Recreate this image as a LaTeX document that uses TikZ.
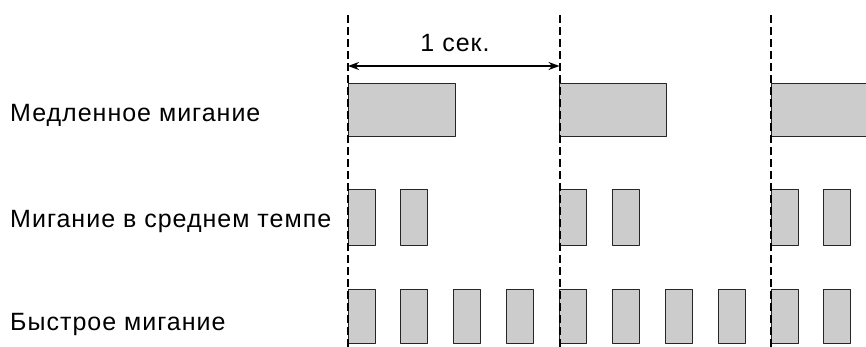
\documentclass[tikz,border=0pt]{standalone}
\usepackage{fontspec}
\setmainfont[LetterSpace=4]{Liberation Sans}
\usetikzlibrary{arrows.meta}
\begin{document}
\begin{tikzpicture}[x=1pt, y=-1pt, font=\fontsize{25}{30}\selectfont, line join=round, >={Stealth[length=11pt,width=8pt]},
	flash/.style={draw=black!85, fill=gray!40, line width=1pt},
	tick/.style={draw=black, line width=2pt, dash pattern=on 8pt off 4pt}]
	\clip (0,0) rectangle (866,347);
	\foreach \k in {0,1,2}{
		\draw[flash] (348+211.5*\k,84) rectangle ++(107,53);
		\foreach \j in {0,1}
			\draw[flash] (348+211.5*\k+52.9*\j,190) rectangle ++(27,55);
		\foreach \j in {0,1,2,3}
			\draw[flash] (348+211.5*\k+52.9*\j,289) rectangle ++(27,54);
		\coordinate (t\k) at (348+211.5*\k,15);
		\coordinate (b\k) at (348+211.5*\k,347);
		\draw[tick] (t\k)--(b\k);
	}
	\coordinate (a0) at (348,66);
	\coordinate (a1) at (559.5,66);
	\draw[<->, line width=1.8pt] (a0)--(a1);
	\node[anchor=base] (sec) at (455,52) {1 сек.};
	\node[anchor=base west, inner sep=0pt] (slow) at (10,122) {Медленное мигание};
	\node[anchor=base west, inner sep=0pt] (mid) at (10,227) {Мигание в среднем темпе};
	\node[anchor=base west, inner sep=0pt] (fast) at (10,330) {Быстрое мигание};
\end{tikzpicture}
\end{document}
